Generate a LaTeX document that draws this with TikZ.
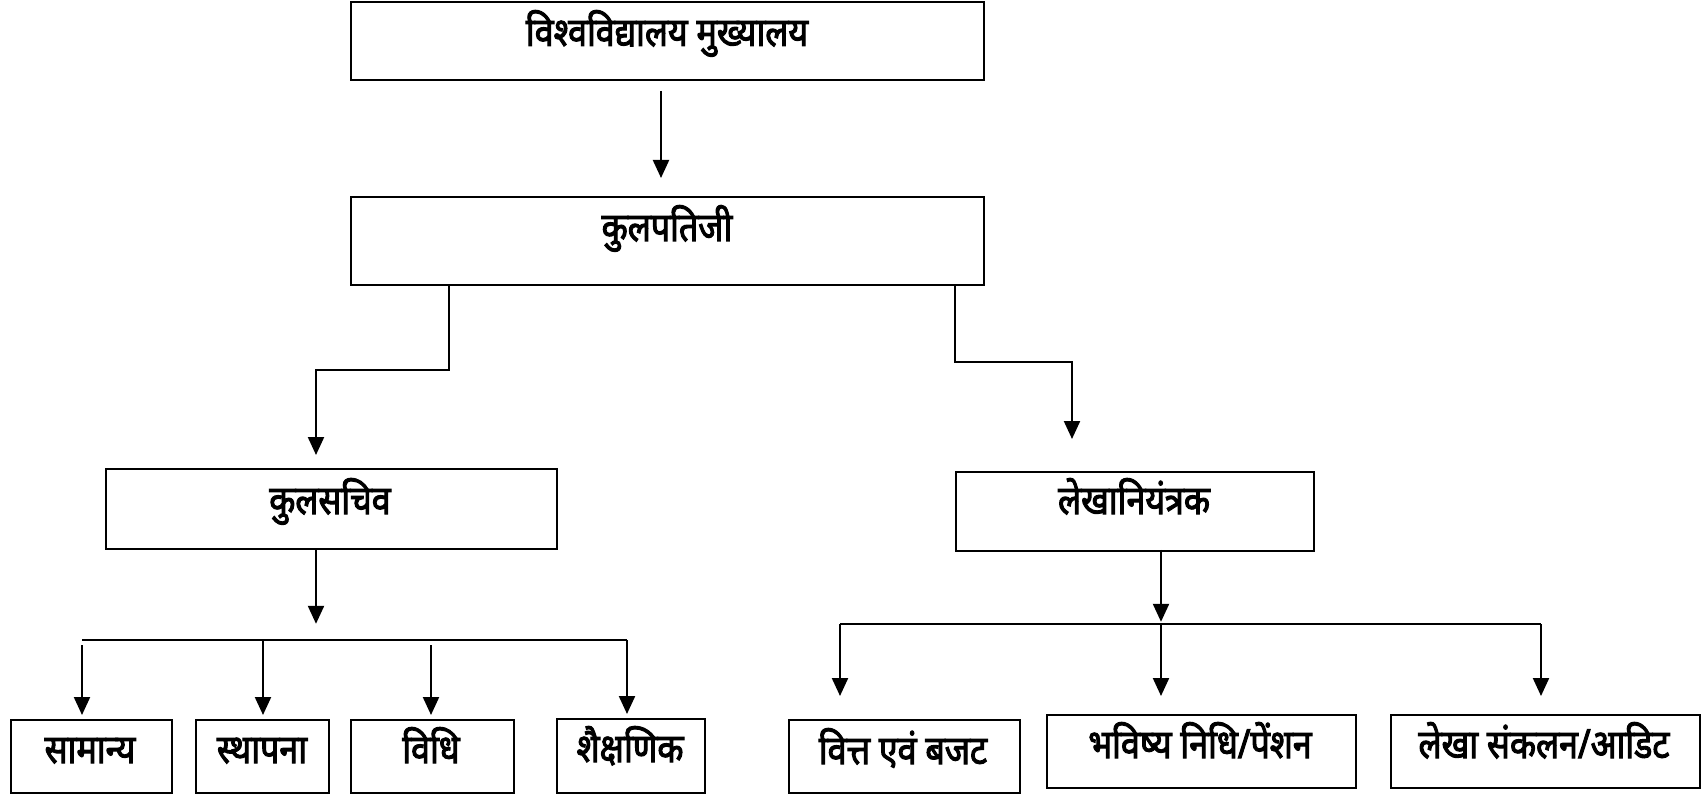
\documentclass[tikz,border=0pt]{standalone}
\usepackage{fontspec}
\newfontfamily\deva[Script=Devanagari,FakeBold=2.5,FakeStretch=0.85]{Noto Sans}
\usetikzlibrary{arrows.meta,calc}
\tikzset{
  box/.style={draw, line width=1.8pt, anchor=north west, inner sep=0pt},
  lbl/.style={font=\deva\fontsize{40}{44}\selectfont, inner sep=0pt, anchor=base},
  arr/.style={line width=2.2pt, -{Triangle[length=18pt,width=16pt]}},
  ln/.style={line width=2.2pt}
}
\begin{document}
\begin{tikzpicture}[x=1pt,y=-1pt]
\useasboundingbox (0,0) rectangle (1708,794);
% boxes
\node[box, minimum width=633pt, minimum height=78pt] (hq) at (350,1) {};
\node[lbl] (hqt) at (667,46) {विश्वविद्यालय मुख्यालय};
\node[box, minimum width=633pt, minimum height=88pt] (kp) at (350,196) {};
\node[lbl] (kpt) at (667,241) {कुलपतिजी};
\node[box, minimum width=451pt, minimum height=80pt] (ks) at (105,468) {};
\node[lbl] (kst) at (330,514) {कुलसचिव};
\node[box, minimum width=358pt, minimum height=79pt] (lk) at (955,471) {};
\node[lbl] (lkt) at (1134,514) {लेखानियंत्रक};
% bottom left
\node[box, minimum width=161pt, minimum height=73pt] (b1) at (10,719) {};
\node[lbl] (b1t) at (90,763) {सामान्य};
\node[box, minimum width=133pt, minimum height=73pt] (b2) at (195,719) {};
\node[lbl] (b2t) at (262,763) {स्थापना};
\node[box, minimum width=163pt, minimum height=73pt] (b3) at (350,719) {};
\node[lbl] (b3t) at (431,763) {विधि};
\node[box, minimum width=148pt, minimum height=74pt] (b4) at (556,718) {};
\node[lbl] (b4t) at (630,762) {शैक्षणिक};
% bottom right
\node[box, minimum width=231pt, minimum height=73pt] (c1) at (788,719) {};
\node[lbl] (c1t) at (903,764) {वित्त एवं बजट};
\node[box, minimum width=309pt, minimum height=73pt] (c2) at (1046,714) {};
\node[lbl] (c2t) at (1200,758) {भविष्य निधि/पेंशन};
\node[box, minimum width=309pt, minimum height=73pt] (c3) at (1390,714) {};
\node[lbl] (c3t) at (1544,758) {लेखा संकलन/आडिट};
% connectors
\draw[arr] ($(hq.south west)+(311,10)$) -- ($(kp.north west)+(311,-18)$);
\coordinate (kpL) at ($(kp.south west)+(99,0)$);
\coordinate (kpR) at ($(kp.south west)+(605,0)$);
\draw[arr] (kpL) -- (kpL |- 0,370) -| ($(ks.north west)+(211,-13)$);
\draw[arr] (kpR) -- (kpR |- 0,362) -| ($(lk.north west)+(117,-32)$);
% kulsachiv bus
\coordinate (ksB) at ($(ks.south west)+(211,0)$);
\draw[arr] (ksB) -- ($(ksB)+(0,74)$);
\coordinate (busL1) at (82,640);
\coordinate (busL2) at (627,640);
\draw[ln] (busL1) -- (busL2);
\draw[arr] ($(b1.north west)+(72,-74)$) -- ($(b1.north west)+(72,-4)$);
\draw[arr] ($(b2.north west)+(68,-79)$) -- ($(b2.north west)+(68,-4)$);
\draw[arr] ($(b3.north west)+(81,-74)$) -- ($(b3.north west)+(81,-4)$);
\draw[arr] (busL2) -- ($(b4.north west)+(71,-4)$);
% lekha bus
\coordinate (lkB) at ($(lk.south west)+(206,-2)$);
\draw[arr] (lkB) -- ($(lkB)+(0,72)$);
\coordinate (busR1) at (840,624);
\coordinate (busR2) at (1541,624);
\draw[ln] (busR1) -- (busR2);
\draw[arr] (busR1) -- ($(c1.north west)+(52,-23)$);
\draw[arr] ($(busR1)+(321,0)$) -- ($(c2.north west)+(115,-18)$);
\draw[arr] (busR2) -- ($(c3.north west)+(151,-18)$);
\end{tikzpicture}
\end{document}
